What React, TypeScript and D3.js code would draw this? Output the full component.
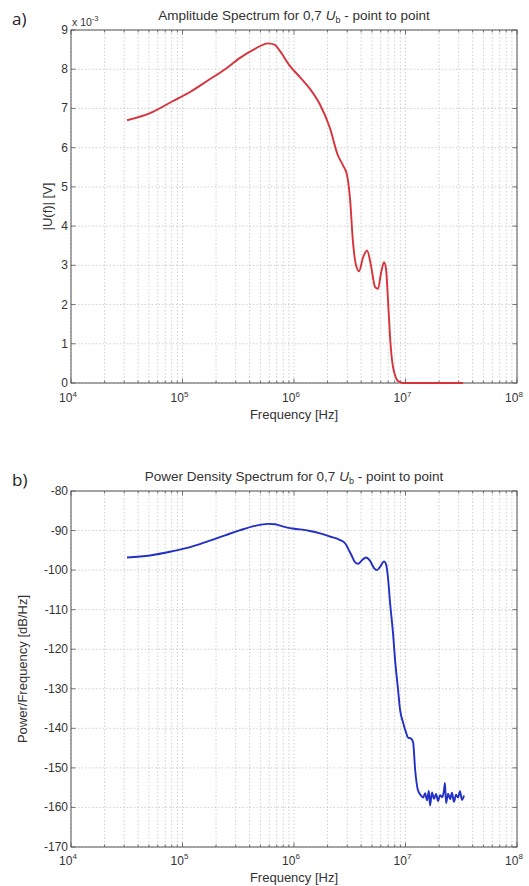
import React from 'react';
import * as d3 from 'd3';

// ---------- data ----------
// a) Amplitude spectrum (values in units of 1e-3 V)
const ampFreq = [3.18e4, 5.11e4, 8.22e4, 1.17e5, 1.66e5, 2.41e5, 3.28e5, 4.47e5, 5.85e5, 6.75e5, 7.49e5, 9.21e5, 1.13e6, 1.39e6, 1.71e6, 2.10e6, 2.48e6, 2.75e6, 2.99e6, 3.18e6, 3.38e6, 3.60e6, 3.83e6, 4.16e6, 4.52e6, 4.90e6, 5.33e6, 5.67e6, 6.03e6, 6.42e6, 6.69e6, 6.97e6, 7.26e6, 7.57e6, 8.05e6, 8.56e6, 9.50e6, 1.66e7, 3.28e7];
const ampValue = [6.70, 6.88, 7.19, 7.42, 7.70, 8.00, 8.29, 8.52, 8.66, 8.62, 8.46, 8.08, 7.80, 7.50, 7.10, 6.50, 5.80, 5.55, 5.30, 4.70, 3.60, 3.00, 2.85, 3.20, 3.38, 3.00, 2.45, 2.40, 2.80, 3.08, 2.90, 2.10, 1.20, 0.58, 0.20, 0.05, 0.0, 0.0, 0.0];

// b) Power density spectrum (dB/Hz)
const psdFreq = [3.18e4, 5.11e4, 8.22e4, 1.17e5, 1.66e5, 2.41e5, 3.28e5, 4.47e5, 5.85e5, 6.75e5, 7.81e5, 9.21e5, 1.13e6, 1.39e6, 1.71e6, 2.10e6, 2.59e6, 2.87e6, 3.05e6, 3.31e6, 3.52e6, 3.75e6, 4.07e6, 4.42e6, 4.80e6, 5.22e6, 5.55e6, 5.91e6, 6.42e6, 6.69e6, 6.97e6, 7.26e6, 7.73e6, 8.05e6, 8.56e6, 8.93e6, 9.50e6, 1.01e7, 1.05e7, 1.12e7, 1.17e7, 1.22e7, 1.29e7, 1.38e7, 1.44e7, 1.50e7, 1.56e7, 1.62e7, 1.66e7, 1.73e7, 1.80e7, 1.88e7, 1.96e7, 2.04e7, 2.13e7, 2.21e7, 2.26e7, 2.31e7, 2.41e7, 2.51e7, 2.61e7, 2.72e7, 2.84e7, 2.96e7, 3.08e7, 3.21e7, 3.35e7];
const psdValue = [-96.8, -96.3, -95.2, -94.2, -92.8, -91.2, -89.9, -88.8, -88.3, -88.4, -88.9, -89.4, -89.7, -90.1, -90.7, -91.5, -92.4, -93.2, -94.5, -96.5, -98.0, -98.4, -97.5, -96.8, -97.6, -99.5, -100.0, -99.2, -97.8, -98.5, -102, -108, -116, -122.5, -130, -135.2, -138.5, -141, -142.3, -142.6, -143.5, -150.4, -155.5, -157.0, -157.5, -156.4, -158.2, -155.8, -159.5, -156.2, -157.8, -156.6, -158.4, -156.9, -157.4, -155.9, -153.8, -158.9, -156.5, -157.9, -156.3, -158.6, -156.8, -157.5, -155.9, -158.1, -157.0];

const xExponents = [4, 5, 6, 7, 8];
const ampTicks = [0, 1, 2, 3, 4, 5, 6, 7, 8, 9];
const psdTicks = [-170, -160, -150, -140, -130, -120, -110, -100, -90, -80];

// ---------- layout ----------
const W = 529;
const H = 886;
const LEFT = 71;
const RIGHT = 517;
const FONT = "'Liberation Sans', Arial, sans-serif";
const TXT = '#333';
const AX = '#555';
const GRID = '#c4c4c4';

type PanelProps = {
  top: number;
  bottom: number;
  yTicks: number[];
  freq: number[];
  values: number[];
  color: string;
  titleMain: string;
  ylabel: string;
  ylabelX: number;
  letter: string;
  tickDy: number;
  labelDy: number;
  exponent?: boolean;
};

function Panel(p: PanelProps) {
  const x = d3.scaleLog().domain([1e4, 1e8]).range([LEFT, RIGHT]);
  const y = d3.scaleLinear().domain([p.yTicks[0], p.yTicks[p.yTicks.length - 1]]).range([p.bottom, p.top]);
  const minors: number[] = [];
  for (let e = 4; e < 8; e++) for (let m = 2; m <= 9; m++) minors.push(m * Math.pow(10, e));
  const majors = xExponents.map((e) => Math.pow(10, e));
  const pts: [number, number][] = p.freq.map((f, i) => [x(f), y(p.values[i])]);
  const line = d3.line().curve(d3.curveMonotoneX)(pts) || '';
  const midX = (LEFT + RIGHT) / 2;
  const midY = (p.top + p.bottom) / 2;
  const tl = 4.5;
  const tm = 2.5;
  return (
    <g>
      {/* grid */}
      {[...minors, ...majors].map((f, i) => (
        <line key={'gx' + i} x1={x(f)} x2={x(f)} y1={p.top} y2={p.bottom} stroke={GRID} strokeWidth={0.8} strokeDasharray="1.5,2" />
      ))}
      {p.yTicks.map((v, i) => (
        <line key={'gy' + i} x1={LEFT} x2={RIGHT} y1={y(v)} y2={y(v)} stroke={GRID} strokeWidth={0.8} strokeDasharray="1.5,2" />
      ))}
      {/* ticks */}
      {minors.map((f, i) => (
        <g key={'mt' + i}>
          <line x1={x(f)} x2={x(f)} y1={p.bottom} y2={p.bottom - tm} stroke={AX} strokeWidth={0.8} />
          <line x1={x(f)} x2={x(f)} y1={p.top} y2={p.top + tm} stroke={AX} strokeWidth={0.8} />
        </g>
      ))}
      {majors.map((f, i) => (
        <g key={'Mt' + i}>
          <line x1={x(f)} x2={x(f)} y1={p.bottom} y2={p.bottom - tl} stroke={AX} strokeWidth={0.8} />
          <line x1={x(f)} x2={x(f)} y1={p.top} y2={p.top + tl} stroke={AX} strokeWidth={0.8} />
        </g>
      ))}
      {p.yTicks.map((v, i) => (
        <g key={'yt' + i}>
          <line x1={LEFT} x2={LEFT + tl} y1={y(v)} y2={y(v)} stroke={AX} strokeWidth={0.8} />
          <line x1={RIGHT} x2={RIGHT - tl} y1={y(v)} y2={y(v)} stroke={AX} strokeWidth={0.8} />
        </g>
      ))}
      {/* frame */}
      <rect x={LEFT} y={p.top} width={RIGHT - LEFT} height={p.bottom - p.top} fill="none" stroke={AX} strokeWidth={1} />
      {/* data */}
      <path d={line} fill="none" stroke={p.color} strokeWidth={1.9} strokeLinejoin="round" />
      {/* tick labels */}
      {p.yTicks.map((v, i) => (
        <text key={'yl' + i} x={LEFT - 3} y={y(v) + 4} textAnchor="end" fontSize={12} fill={TXT} fontFamily={FONT}>
          {String(v)}
        </text>
      ))}
      {xExponents.map((e, i) => (
        <text key={'xl' + i} x={x(Math.pow(10, e)) - 3} y={p.bottom + p.tickDy} textAnchor="middle" fontSize={12} fill={TXT} fontFamily={FONT}>
          10
          <tspan dy={-5.5} fontSize={8}>{String(e)}</tspan>
        </text>
      ))}
      {p.exponent && (
        <text x={LEFT + 1} y={p.top - 4} fontSize={10.5} fill={TXT} fontFamily={FONT}>
          x 10
          <tspan dy={-5} fontSize={7.5}>-3</tspan>
        </text>
      )}
      {/* axis labels */}
      <text x={midX} y={p.bottom + p.labelDy} textAnchor="middle" fontSize={13} fill={TXT} fontFamily={FONT}>
        Frequency [Hz]
      </text>
      <text transform={`translate(${p.ylabelX},${midY}) rotate(-90)`} textAnchor="middle" fontSize={13} fill={TXT} fontFamily={FONT}>
        {p.ylabel}
      </text>
      {/* title */}
      <text x={midX} y={p.top - 10} textAnchor="middle" fontSize={13.5} fill={TXT} fontFamily={FONT}>
        {p.titleMain}
        <tspan fontStyle="italic">U</tspan>
        <tspan dy={3} fontSize={9}>b</tspan>
        <tspan dy={-3}>{'  - point to point'}</tspan>
      </text>
      <text x={12} y={p.top - 5} fontSize={17} fill="#222" fontFamily="'Open Sans', 'Noto Sans', sans-serif">
        {p.letter}
      </text>
    </g>
  );
}

export default function App() {
  return (
    <svg width={W} height={H} style={{ position: 'absolute', left: 0, top: 0, background: '#fff' }}>
      <rect width={W} height={H} fill="#fff" />
      <Panel
        top={30}
        bottom={383}
        yTicks={ampTicks}
        freq={ampFreq}
        values={ampValue}
        color="#d8323a"
        titleMain="Amplitude Spectrum for 0,7 "
        ylabel="|U(f)| [V]"
        ylabelX={52}
        letter="a)"
        tickDy={19}
        labelDy={36}
        exponent
      />
      <Panel
        top={491}
        bottom={847}
        yTicks={psdTicks}
        freq={psdFreq}
        values={psdValue}
        color="#2230c4"
        titleMain="Power Density Spectrum for 0,7 "
        ylabel="Power/Frequency [dB/Hz]"
        ylabelX={27}
        letter="b)"
        tickDy={17.5}
        labelDy={35}
      />
    </svg>
  );
}
